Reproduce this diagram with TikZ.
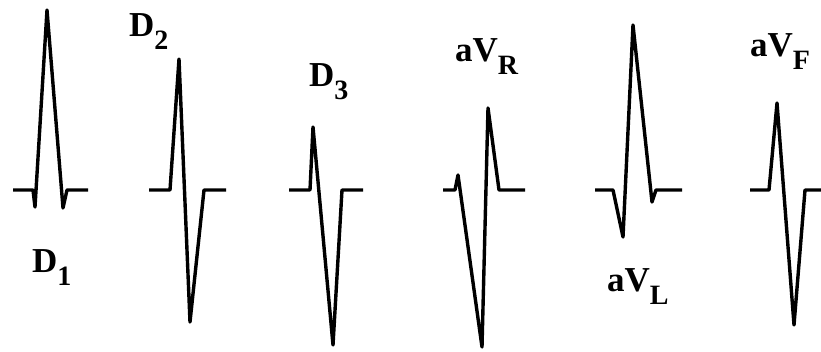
\documentclass[tikz,border=0pt]{standalone}
\usepackage{fontspec}
\setmainfont{Liberation Serif}
\newcommand{\mylbl}[2]{\bfseries\fontsize{35}{38}\selectfont #1\raisebox{-13pt}{\fontsize{28}{30}\selectfont #2}}
\begin{document}
\begin{tikzpicture}[x=1pt,y=-1pt,
  trace/.style={line width=3.4pt,line join=round,line cap=butt},
  lbl/.style={anchor=base west,inner sep=0pt,outer sep=0pt}]
\useasboundingbox (0,0) rectangle (821,352);
% D1
\draw[trace] (13,190) -- (33,190) -- (35,207) -- (47,10) -- (63,208) -- (67,190) -- (88,190);
% D2
\draw[trace] (149,190) -- (170,190) -- (179,59) -- (190,322) -- (204,190) -- (226,190);
% D3
\draw[trace] (289,190) -- (310,190) -- (313,127) -- (333,345) -- (342,190) -- (363,190);
% aVR
\draw[trace] (443,190) -- (455,190) -- (458,175) -- (482,347) -- (488,108) -- (499,190) -- (525,190);
% aVL
\draw[trace] (595,190) -- (613,190) -- (623,237) -- (633,25) -- (652,202) -- (656,190) -- (682,190);
% aVF
\draw[trace] (750,190) -- (769,190) -- (777,103) -- (794,325) -- (805,190) -- (821,190);
% labels
\node[lbl] (l1) at (32,273) {\mylbl{D}{1}};
\node[lbl] (l2) at (129,37) {\mylbl{D}{2}};
\node[lbl] (l3) at (309,87) {\mylbl{D}{3}};
\node[lbl] (l4) at (455,62) {\mylbl{aV}{R}};
\node[lbl] (l5) at (607,292) {\mylbl{aV}{L}};
\node[lbl] (l6) at (750,57) {\mylbl{aV}{F}};
\end{tikzpicture}
\end{document}
